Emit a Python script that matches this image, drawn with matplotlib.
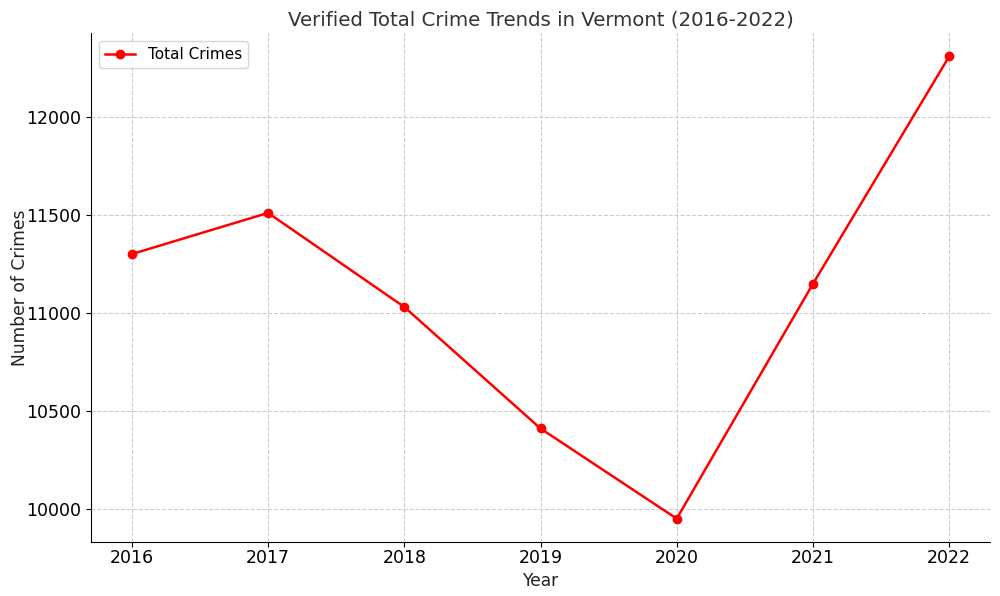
import matplotlib.pyplot as plt

years = [2016, 2017, 2018, 2019, 2020, 2021, 2022]
total_crimes = [11300, 11510, 11030, 10410, 9950, 11148, 12308]

fig, ax = plt.subplots(figsize=(10, 5.96), dpi=100)
ax.plot(years, total_crimes, marker='o', color='red', linewidth=1.8, markersize=6, label='Total Crimes')

ax.set_title('Verified Total Crime Trends in Vermont (2016-2022)', fontsize=14.2, color='#333333')
ax.set_xlabel('Year', fontsize=12.3, color='#222222', labelpad=3)
ax.set_ylabel('Number of Crimes', fontsize=12.3, color='#222222', labelpad=-2)
ax.set_xticks(years)
ax.tick_params(labelsize=12.5)
ax.tick_params(axis='x', pad=2)
ax.grid(True, linestyle='--', color='#cccccc', linewidth=0.8)
ax.spines['top'].set_visible(False)
ax.spines['right'].set_visible(False)
ax.legend(loc='upper left', fontsize=11)

fig.subplots_adjust(left=0.091, right=0.99, top=0.944, bottom=0.091)
plt.savefig('out.png')
